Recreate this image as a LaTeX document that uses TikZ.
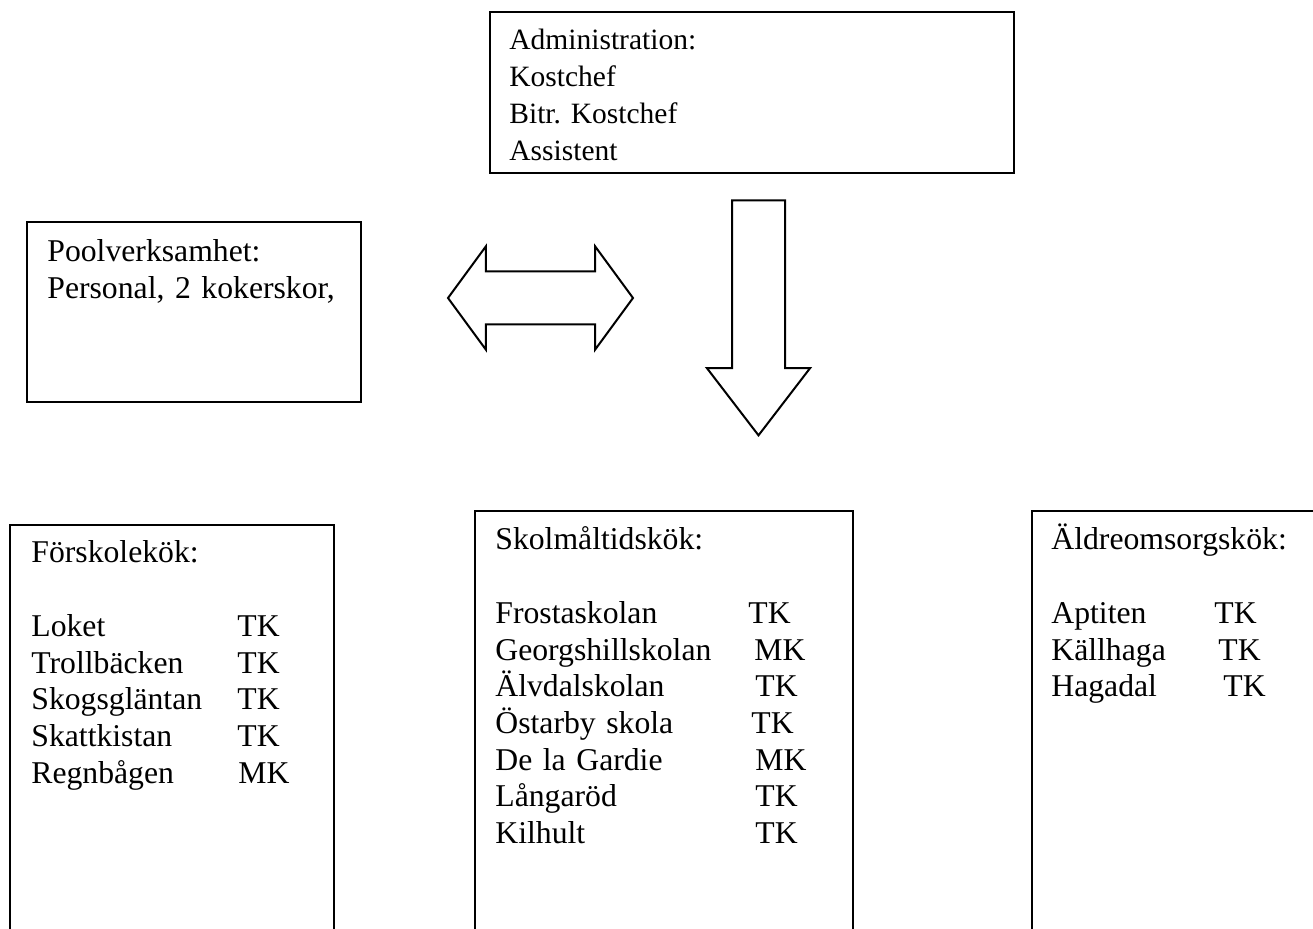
\documentclass[tikz,border=0pt]{standalone}
\usepackage{fontspec}
\setmainfont{Liberation Serif}
\usepackage{tikz}
\usetikzlibrary{shapes.arrows}

\newcommand{\rad}[3]{\makebox[#1][l]{#2}#3}

\begin{document}
\begin{tikzpicture}[x=0.5pt,y=-0.5pt,
	ruta/.style={draw,line width=1pt,rectangle,inner sep=0pt,anchor=north west},
	rutatext/.style={anchor=base west,inner sep=0pt,text width=180pt,align=left,
		font=\fontsize{15.85pt}{18.35pt}\selectfont\frenchspacing},
	admtext/.style={rutatext,font=\fontsize{14.75pt}{18.5pt}\selectfont\frenchspacing},
	blockpil/.style={draw,line width=1pt,inner xsep=0pt,inner ysep=12.75pt,
		minimum width=50.5pt}]
	\useasboundingbox (0,0) rectangle (1313,929);
	\clip (0,0) rectangle (1313,929);

	% boxes
	\node[ruta,minimum width=262pt,minimum height=80.5pt] (adm) at (489,11) {};
	\node[ruta,minimum width=167pt,minimum height=90pt] (pool) at (26,221) {};
	\node[ruta,minimum width=162pt,minimum height=218pt] (forskola) at (9,524) {};
	\node[ruta,minimum width=189pt,minimum height=225pt] (skola) at (474,510) {};
	\node[ruta,minimum width=160pt,minimum height=225pt] (aldre) at (1031,510) {};

	% texts
	\node[admtext] (admtxt) at (509,50) {Administration:\\ Kostchef\\ Bitr. Kostchef\\ Assistent};
	\node[rutatext] (pooltxt) at (47,262) {Poolverksamhet:\\ Personal, 2 kokerskor,};
	\node[rutatext] (forskolatxt) at (31,563) {Förskolekök:\\ \mbox{}\\
		\rad{103pt}{Loket}{TK}\\
		\rad{103pt}{Trollbäcken}{TK}\\
		\rad{103pt}{Skogsgläntan}{TK}\\
		\rad{103pt}{Skattkistan}{TK}\\
		\rad{103.5pt}{Regnbågen}{MK}};
	\node[rutatext] (skolatxt) at (495,550) {Skolmåltidskök:\\ \mbox{}\\
		\rad{126.5pt}{Frostaskolan}{TK}\\
		\rad{129.5pt}{Georgshillskolan}{MK}\\
		\rad{130pt}{Älvdalskolan}{TK}\\
		\rad{128pt}{Östarby skola}{TK}\\
		\rad{130pt}{De la Gardie}{MK}\\
		\rad{130pt}{Långaröd}{TK}\\
		\rad{130pt}{Kilhult}{TK}};
	\node[rutatext] (aldretxt) at (1051,550) {Äldreomsorgskök:\\ \mbox{}\\
		\rad{81.5pt}{Aptiten}{TK}\\
		\rad{83.5pt}{Källhaga}{TK}\\
		\rad{86pt}{Hagadal}{TK}};

	% block arrows
	\node[blockpil,double arrow,minimum height=92.5pt,double arrow head extend=12.5pt,
		double arrow tip angle=107.5] (dubbelpil) at (540.5,298) {};	%pool--adm
	\node[blockpil,single arrow,rotate=-90,anchor=tip,minimum height=117.5pt,
		single arrow head extend=12.5pt,single arrow tip angle=75] (nedpil) at (758.5,437) {};	%adm--kok
\end{tikzpicture}
\end{document}
